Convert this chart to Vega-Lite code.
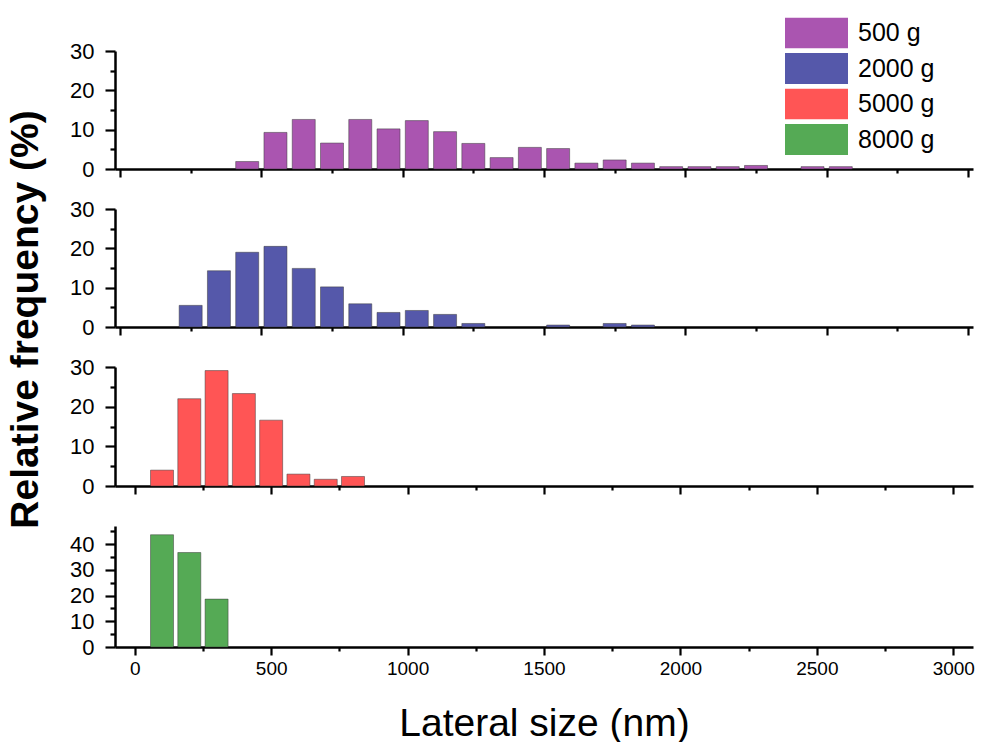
{
  "$schema": "https://vega.github.io/schema/vega-lite/v6.json",
  "background": "white",
  "padding": {"left": 5, "top": 17, "right": 5, "bottom": 0},
  "config": {
    "view": {"stroke": null},
    "font": "Liberation Sans",
    "axis": {
      "domainColor": "black", "domainWidth": 2.5, "tickColor": "black", "tickWidth": 2.2,
      "labelColor": "black", "labelFont": "Liberation Sans", "labelFontSize": 22,
      "titleColor": "black", "titleFont": "Liberation Sans", "grid": false
    }
  },
  "data": {"values": [
    {"group": "500 g", "size": 450, "freq": 1.9},
    {"group": "500 g", "size": 550, "freq": 9.3},
    {"group": "500 g", "size": 650, "freq": 12.6},
    {"group": "500 g", "size": 750, "freq": 6.6},
    {"group": "500 g", "size": 850, "freq": 12.6},
    {"group": "500 g", "size": 950, "freq": 10.2},
    {"group": "500 g", "size": 1050, "freq": 12.3},
    {"group": "500 g", "size": 1150, "freq": 9.5},
    {"group": "500 g", "size": 1250, "freq": 6.5},
    {"group": "500 g", "size": 1350, "freq": 2.9},
    {"group": "500 g", "size": 1450, "freq": 5.5},
    {"group": "500 g", "size": 1550, "freq": 5.2},
    {"group": "500 g", "size": 1650, "freq": 1.5},
    {"group": "500 g", "size": 1750, "freq": 2.3},
    {"group": "500 g", "size": 1850, "freq": 1.5},
    {"group": "500 g", "size": 1950, "freq": 0.6},
    {"group": "500 g", "size": 2050, "freq": 0.6},
    {"group": "500 g", "size": 2150, "freq": 0.6},
    {"group": "500 g", "size": 2250, "freq": 0.9},
    {"group": "500 g", "size": 2450, "freq": 0.6},
    {"group": "500 g", "size": 2550, "freq": 0.6},
    {"group": "2000 g", "size": 250, "freq": 5.5},
    {"group": "2000 g", "size": 350, "freq": 14.3},
    {"group": "2000 g", "size": 450, "freq": 19.0},
    {"group": "2000 g", "size": 550, "freq": 20.5},
    {"group": "2000 g", "size": 650, "freq": 14.9},
    {"group": "2000 g", "size": 750, "freq": 10.2},
    {"group": "2000 g", "size": 850, "freq": 5.9},
    {"group": "2000 g", "size": 950, "freq": 3.7},
    {"group": "2000 g", "size": 1050, "freq": 4.2},
    {"group": "2000 g", "size": 1150, "freq": 3.2},
    {"group": "2000 g", "size": 1250, "freq": 0.9},
    {"group": "2000 g", "size": 1550, "freq": 0.5},
    {"group": "2000 g", "size": 1750, "freq": 0.9},
    {"group": "2000 g", "size": 1850, "freq": 0.5},
    {"group": "5000 g", "size": 100, "freq": 4.0},
    {"group": "5000 g", "size": 200, "freq": 22.0},
    {"group": "5000 g", "size": 300, "freq": 29.1},
    {"group": "5000 g", "size": 400, "freq": 23.3},
    {"group": "5000 g", "size": 500, "freq": 16.6},
    {"group": "5000 g", "size": 600, "freq": 3.0},
    {"group": "5000 g", "size": 700, "freq": 1.7},
    {"group": "5000 g", "size": 800, "freq": 2.4},
    {"group": "8000 g", "size": 100, "freq": 43.6},
    {"group": "8000 g", "size": 200, "freq": 36.7},
    {"group": "8000 g", "size": 300, "freq": 18.6}
  ]},
  "bounds": "flush",
  "spacing": 40,
  "vconcat": [
    {
      "width": 858, "height": 118,
      "transform": [{"filter": "datum.group === '500 g'"}],
      "mark": {"type": "bar", "width": 23, "stroke": "#3a3a3a", "strokeWidth": 0.5},
      "encoding": {
        "x": {"field": "size", "type": "quantitative",
          "scale": {"domain": [0, 3000], "nice": false, "zero": false},
          "axis": {"values": [0,250,500,750,1000,1250,1500,1750,2000,2250,2500,2750,3000], "labels": false, "title": null,
            "tickSize": {"condition": {"test": "datum.value % 500 === 0", "value": 8}, "value": 4}}},
        "y": {"field": "freq", "type": "quantitative",
          "scale": {"domain": [0, 30], "nice": false},
          "axis": {"values": [0,5,10,15,20,25,30], "labelExpr": "datum.value % 10 === 0 ? datum.label : ''",
            "tickSize": {"condition": {"test": "datum.value % 10 === 0", "value": 10}, "value": 5},
            "labelPadding": 11, "title": null}},
        "color": {"field": "group", "type": "nominal",
          "scale": {"domain": ["500 g", "2000 g", "5000 g", "8000 g"], "range": ["#AA55B0", "#5558AA", "#FF5555", "#55AA55"]},
          "legend": {"orient": "none", "legendX": 670, "legendY": -33.5, "title": null, "padding": 0,
            "symbolType": "M-1,-0.49H1V0.49H-1Z", "symbolSize": 3969, "clipHeight": 31, "rowPadding": 4.5,
            "symbolStrokeWidth": 0, "symbolOpacity": 1, "labelOffset": 10, "labelFontSize": 25,
            "labelFont": "Liberation Sans", "labelColor": "black"}}
      }
    },
    {
      "width": 858, "height": 118,
      "transform": [{"filter": "datum.group === '2000 g'"}],
      "mark": {"type": "bar", "width": 23, "stroke": "#3a3a3a", "strokeWidth": 0.5},
      "encoding": {
        "x": {"field": "size", "type": "quantitative",
          "scale": {"domain": [0, 3000], "nice": false, "zero": false},
          "axis": {"values": [0,250,500,750,1000,1250,1500,1750,2000,2250,2500,2750,3000], "labels": false, "title": null,
            "tickSize": {"condition": {"test": "datum.value % 500 === 0", "value": 8}, "value": 4}}},
        "y": {"field": "freq", "type": "quantitative",
          "scale": {"domain": [0, 30], "nice": false},
          "axis": {"values": [0,5,10,15,20,25,30], "labelExpr": "datum.value % 10 === 0 ? datum.label : ''",
            "tickSize": {"condition": {"test": "datum.value % 10 === 0", "value": 10}, "value": 5},
            "labelPadding": 11,
            "title": "Relative frequency (%)", "titleFontSize": 39, "titleFontWeight": "bold",
            "titleAngle": 270, "titleAlign": "center", "titleBaseline": "alphabetic",
            "titleX": -78, "titleY": 110}},
        "color": {"field": "group", "type": "nominal",
          "scale": {"domain": ["500 g", "2000 g", "5000 g", "8000 g"], "range": ["#AA55B0", "#5558AA", "#FF5555", "#55AA55"]},
          "legend": {"orient": "none", "legendX": 670, "legendY": -33.5, "title": null, "padding": 0,
            "symbolType": "M-1,-0.49H1V0.49H-1Z", "symbolSize": 3969, "clipHeight": 31, "rowPadding": 4.5,
            "symbolStrokeWidth": 0, "symbolOpacity": 1, "labelOffset": 10, "labelFontSize": 25,
            "labelFont": "Liberation Sans", "labelColor": "black"}}
      }
    },
    {
      "width": 858, "height": 119,
      "transform": [{"filter": "datum.group === '5000 g'"}],
      "mark": {"type": "bar", "width": 23, "stroke": "#3a3a3a", "strokeWidth": 0.5},
      "encoding": {
        "x": {"field": "size", "type": "quantitative",
          "scale": {"domain": [-54, 3054], "nice": false, "zero": false},
          "axis": {"values": [0,250,500,750,1000,1250,1500,1750,2000,2250,2500,2750,3000], "labels": false, "title": null,
            "tickSize": {"condition": {"test": "datum.value % 500 === 0", "value": 8}, "value": 4}}},
        "y": {"field": "freq", "type": "quantitative",
          "scale": {"domain": [0, 30], "nice": false},
          "axis": {"values": [0,5,10,15,20,25,30], "labelExpr": "datum.value % 10 === 0 ? datum.label : ''",
            "tickSize": {"condition": {"test": "datum.value % 10 === 0", "value": 10}, "value": 5},
            "labelPadding": 11, "title": null}},
        "color": {"field": "group", "type": "nominal",
          "scale": {"domain": ["500 g", "2000 g", "5000 g", "8000 g"], "range": ["#AA55B0", "#5558AA", "#FF5555", "#55AA55"]},
          "legend": {"orient": "none", "legendX": 670, "legendY": -33.5, "title": null, "padding": 0,
            "symbolType": "M-1,-0.49H1V0.49H-1Z", "symbolSize": 3969, "clipHeight": 31, "rowPadding": 4.5,
            "symbolStrokeWidth": 0, "symbolOpacity": 1, "labelOffset": 10, "labelFontSize": 25,
            "labelFont": "Liberation Sans", "labelColor": "black"}}
      }
    },
    {
      "width": 858, "height": 121,
      "transform": [{"filter": "datum.group === '8000 g'"}],
      "mark": {"type": "bar", "width": 23, "stroke": "#3a3a3a", "strokeWidth": 0.5},
      "encoding": {
        "x": {"field": "size", "type": "quantitative",
          "scale": {"domain": [-54, 3054], "nice": false, "zero": false},
          "axis": {"values": [0,250,500,750,1000,1250,1500,1750,2000,2250,2500,2750,3000], "format": "d",
            "labelExpr": "datum.value % 500 === 0 ? datum.label : ''", "labelFontSize": 19, "labelPadding": 4,
            "tickSize": {"condition": {"test": "datum.value % 500 === 0", "value": 8}, "value": 4},
            "title": "Lateral size (nm)", "titleFontSize": 39, "titleFontWeight": "normal",
            "titleBaseline": "alphabetic", "titleY": 88}},
        "y": {"field": "freq", "type": "quantitative",
          "scale": {"domain": [0, 47], "nice": false},
          "axis": {"values": [0,5,10,15,20,25,30,35,40,45], "labelExpr": "datum.value % 10 === 0 ? datum.label : ''",
            "tickSize": {"condition": {"test": "datum.value % 10 === 0", "value": 10}, "value": 5},
            "labelPadding": 11, "title": null}},
        "color": {"field": "group", "type": "nominal",
          "scale": {"domain": ["500 g", "2000 g", "5000 g", "8000 g"], "range": ["#AA55B0", "#5558AA", "#FF5555", "#55AA55"]},
          "legend": {"orient": "none", "legendX": 670, "legendY": -33.5, "title": null, "padding": 0,
            "symbolType": "M-1,-0.49H1V0.49H-1Z", "symbolSize": 3969, "clipHeight": 31, "rowPadding": 4.5,
            "symbolStrokeWidth": 0, "symbolOpacity": 1, "labelOffset": 10, "labelFontSize": 25,
            "labelFont": "Liberation Sans", "labelColor": "black"}}
      }
    }
  ]
}
